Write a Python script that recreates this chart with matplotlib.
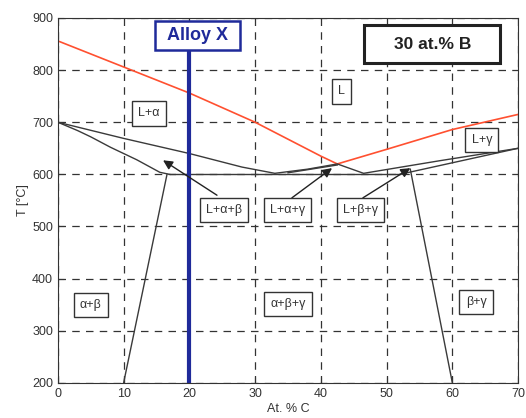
import matplotlib.pyplot as plt
from matplotlib.patches import Rectangle

plt.rcParams['font.family'] = ['Liberation Sans', 'DejaVu Sans']

# phase boundaries (at.% C, T in degC)
liq_left_x = [0, 10, 20, 30, 40, 42.5]
liq_left_t = [856, 806, 756, 700, 635, 620]
liq_right_x = [42.5, 50, 60, 70]
liq_right_t = [620, 648, 686, 715]

alpha_up_x = [0, 10, 20, 28, 33, 38, 42.5, 46.5, 58, 70]
alpha_up_t = [700, 669, 640, 614, 602, 610, 620, 602, 626, 650]
alpha_lo_x = [0, 3, 5, 8, 10, 12, 15.5, 17]
alpha_lo_t = [700, 684, 672, 652, 640, 628, 604, 600]
tern_x = [17, 52]
tern_t = [600, 600]
gam_x = [52, 70]
gam_t = [600, 650]
mid_x = [35, 42.5]
mid_t = [603, 618]

left_line_x = [10, 16.6]
left_line_t = [200, 600]
right_line_x = [60, 53.6]
right_line_t = [200, 610]

alloy_x = 20

xticks = [0, 10, 20, 30, 40, 50, 60, 70]
yticks = [200, 300, 400, 500, 600, 700, 800, 900]

# region labels: text, x, T
regions = [
    ("L+α", 13.8, 717),
    ("L", 43.1, 759),
    ("L+γ", 64.5, 666),
    ("α+β", 5.0, 349),
    ("α+β+γ", 35.0, 351),
    ("β+γ", 63.6, 355),
]
# arrow labels: text, box x, box T, tail x, tail T, tip x, tip T
arrows = [
    ("L+α+β", 25.3, 532, 24.2, 560, 16.0, 627),
    ("L+α+γ", 34.9, 532, 35.6, 555, 41.7, 612),
    ("L+β+γ", 46.0, 532, 46.4, 555, 53.6, 612),
]

fig = plt.figure(figsize=(5.26, 4.18), dpi=100)
ax = fig.add_axes([0.110, 0.084, 0.875, 0.873])

ax.plot(liq_left_x, liq_left_t, color='#ff5030', lw=1.2)
ax.plot(liq_right_x, liq_right_t, color='#ff5030', lw=1.2)
k = dict(color='#3a3a3a', lw=1.0)
ax.plot(alpha_up_x, alpha_up_t, **k)
ax.plot(alpha_lo_x, alpha_lo_t, **k)
ax.plot(tern_x, tern_t, **k)
ax.plot(gam_x, gam_t, **k)
ax.plot(mid_x, mid_t, **k)
ax.plot(left_line_x, left_line_t, **k)
ax.plot(right_line_x, right_line_t, **k)

ax.plot([alloy_x, alloy_x], [200, 838], color='#1f2a9a', lw=3)
ax.add_patch(Rectangle((14.8, 838), 12.9, 56, fc='white', ec='#1f2a9a', lw=1.8, zorder=4))
ax.text(21.25, 866, "Alloy X", ha='center', va='center', fontsize=13,
        fontweight='bold', color='#1f2a9a', zorder=5)
ax.add_patch(Rectangle((46.6, 814), 20.7, 72, fc='white', ec='#222222', lw=2.2, zorder=4))
ax.text(56.95, 850, "30 at.% B", ha='center', va='center', fontsize=12.5,
        fontweight='bold', color='#222222', zorder=5)

box = dict(boxstyle='square,pad=0.5', fc='white', ec='#333333', lw=1.0)
for txt, x, t in regions:
    ax.text(x, t, txt, ha='center', va='center', fontsize=9, color='#333333', bbox=box)

for txt, bx, bt, x0, t0, x1, t1 in arrows:
    ax.annotate("", xy=(x1, t1), xytext=(x0, t0),
                arrowprops=dict(arrowstyle='-|>', color='#222222', lw=1.0,
                                mutation_scale=14, shrinkA=0, shrinkB=0))
    ax.text(bx, bt, txt, ha='center', va='center', fontsize=9, color='#333333', bbox=box)

ax.set_xlim(0, 70)
ax.set_ylim(200, 900)
ax.set_xticks(xticks)
ax.set_yticks(yticks)
ax.tick_params(direction='in', labelsize=9, colors='#333333', length=4)
ax.grid(True, color='#333333', linestyle=(0, (6, 5)), linewidth=0.9)
for s in ax.spines.values():
    s.set_color('#333333')
ax.set_xlabel("At. % C", fontsize=9, color='#333333', labelpad=2)
ax.set_ylabel("T [°C]", fontsize=9, color='#333333', labelpad=2)

fig.savefig("out.png", dpi=100)
